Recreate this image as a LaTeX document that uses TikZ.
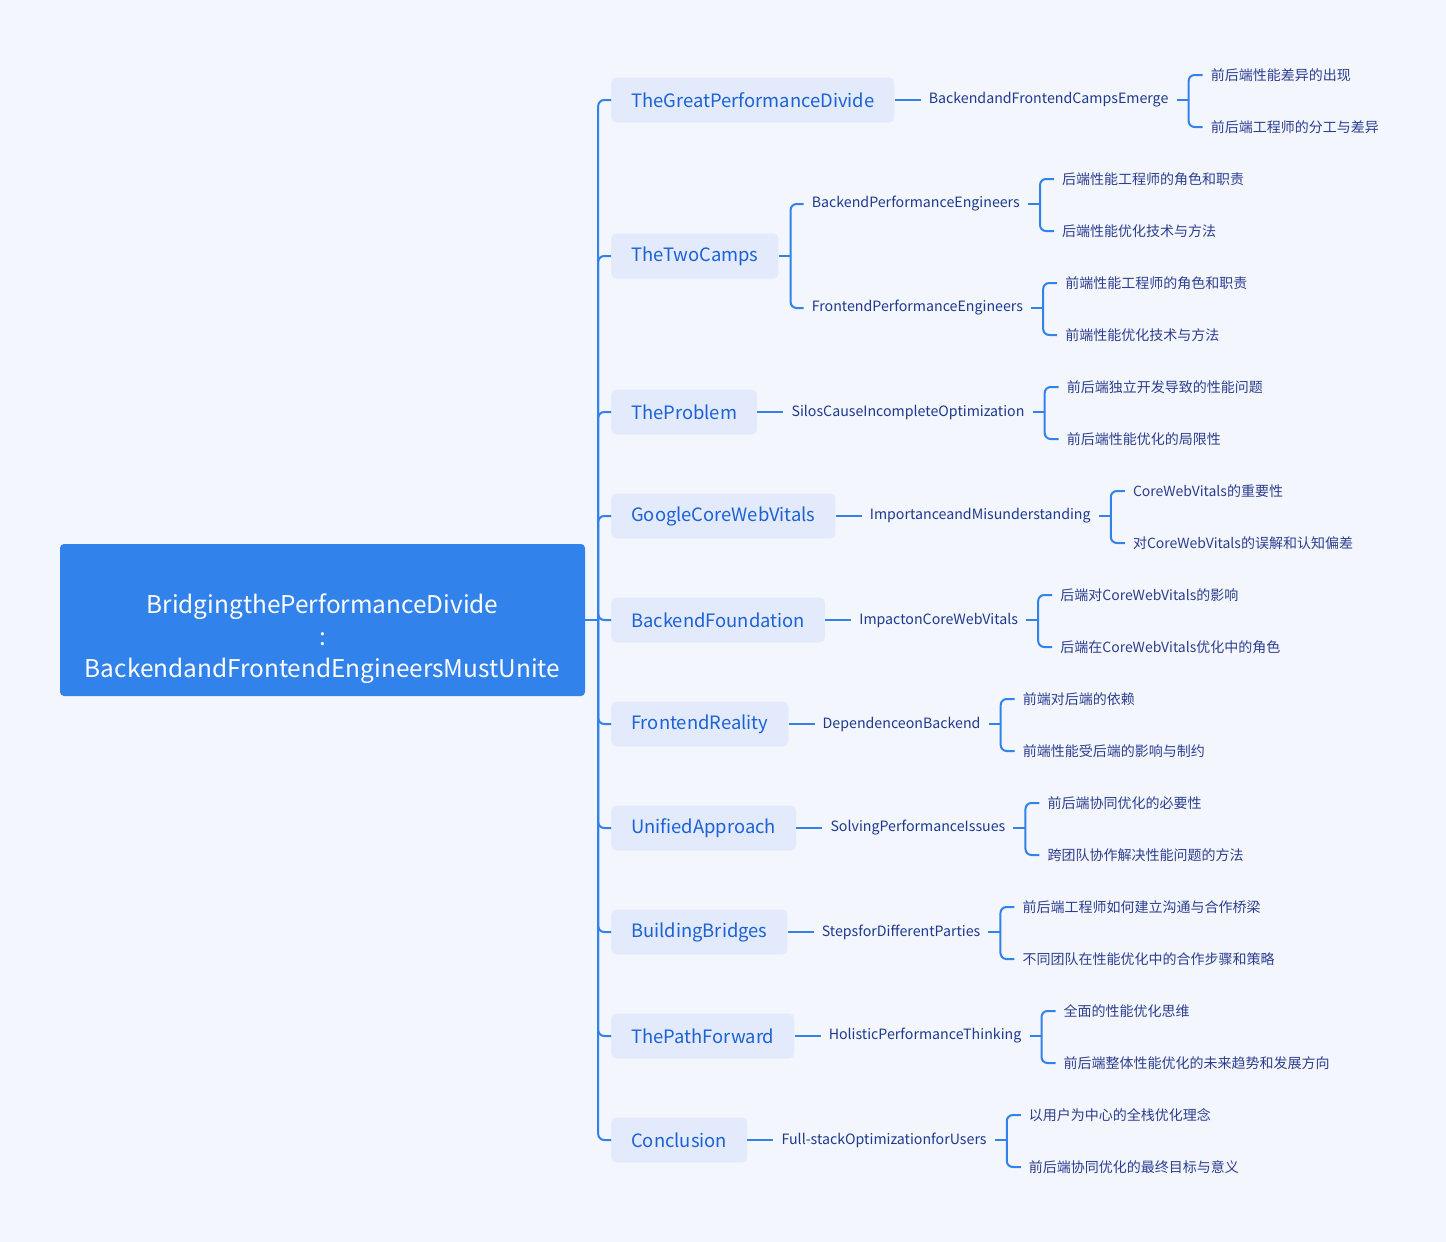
\documentclass[tikz,border=0pt]{standalone}
\usepackage{fontspec}
\setmainfont{Noto Sans CJK SC}
\usetikzlibrary{positioning}
\definecolor{pagebg}{HTML}{F4F6FD}
\definecolor{rootblue}{HTML}{3182EB}
\definecolor{topicbg}{HTML}{E2EAFB}
\definecolor{topictext}{HTML}{1C62D4}
\definecolor{subtext}{HTML}{1D3A8E}
\definecolor{leaftext}{HTML}{2C3F8F}
\begin{document}
\begin{tikzpicture}[x=1pt, y=1pt]
    \tikzstyle{every node}=[align = left]
    \tikzstyle{root} = [fill=rootblue, text=white, rounded corners=4pt, minimum width=525pt, minimum height=152pt, align=center, font=\fontsize{24.4}{32}\selectfont]
    \tikzstyle{topic} = [fill=topicbg, text=topictext, rounded corners=5pt, minimum height=45pt, inner xsep=20pt, anchor=west, font=\fontsize{18.4}{22}\selectfont]
    \tikzstyle{sub} = [text=subtext, inner xsep=8pt, inner ysep=0pt, font=\fontsize{14.2}{17}\selectfont]
    \tikzstyle{leaf} = [text=leaftext, inner xsep=8pt, inner ysep=0pt, anchor=west, font=\fontsize{14}{17}\selectfont]
    \tikzstyle{link} = [draw=rootblue, line width=2pt, rounded corners=6pt]
    \fill[pagebg] (0,0) rectangle (1446,-1242);
    \useasboundingbox (0,0) rectangle (1446,-1242);

    \node[root] (root) at (322.5,-620) {\mbox{}\\[26pt]BridgingthePerformanceDivide\\:\\BackendandFrontendEngineersMustUnite};

    % main topics
    \node[topic] (t1) at (611,-100) {TheGreatPerformanceDivide};
    \node[topic] (t2) at (611,-256) {TheTwoCamps};
    \node[topic] (t3) at (611,-412) {TheProblem};
    \node[topic] (t4) at (611,-516) {GoogleCoreWebVitals};
    \node[topic] (t5) at (611,-620) {BackendFoundation};
    \node[topic] (t6) at (611,-724) {FrontendReality};
    \node[topic] (t7) at (611,-828) {UnifiedApproach};
    \node[topic] (t8) at (611,-932) {BuildingBridges};
    \node[topic] (t9) at (611,-1036) {ThePathForward};
    \node[topic] (t10) at (611,-1140) {Conclusion};

    % sub topics
    \node[sub, right=26pt of t1] (b1) {BackendandFrontendCampsEmerge};
    \node[sub, anchor=west] (b2a) at ([shift={(25,52)}]t2.east) {BackendPerformanceEngineers};
    \node[sub, anchor=west] (b2b) at ([shift={(25,-52)}]t2.east) {FrontendPerformanceEngineers};
    \node[sub, right=26pt of t3] (b3) {SilosCauseIncompleteOptimization};
    \node[sub, right=26pt of t4] (b4) {ImportanceandMisunderstanding};
    \node[sub, right=26pt of t5] (b5) {ImpactonCoreWebVitals};
    \node[sub, right=26pt of t6] (b6) {DependenceonBackend};
    \node[sub, right=26pt of t7] (b7) {SolvingPerformanceIssues};
    \node[sub, right=26pt of t8] (b8) {StepsforDifferentParties};
    \node[sub, right=26pt of t9] (b9) {HolisticPerformanceThinking};
    \node[sub, right=26pt of t10] (b10) {Full-stackOptimizationforUsers};

    % leaves
    \node[leaf] (b1-1) at ([shift={(26,25)}]b1.east) {前后端性能差异的出现};
    \node[leaf] (b1-2) at ([shift={(26,-27)}]b1.east) {前后端工程师的分工与差异};
    \node[leaf] (b2a-1) at ([shift={(26,25)}]b2a.east) {后端性能工程师的角色和职责};
    \node[leaf] (b2a-2) at ([shift={(26,-27)}]b2a.east) {后端性能优化技术与方法};
    \node[leaf] (b2b-1) at ([shift={(26,25)}]b2b.east) {前端性能工程师的角色和职责};
    \node[leaf] (b2b-2) at ([shift={(26,-27)}]b2b.east) {前端性能优化技术与方法};
    \node[leaf] (b3-1) at ([shift={(26,25)}]b3.east) {前后端独立开发导致的性能问题};
    \node[leaf] (b3-2) at ([shift={(26,-27)}]b3.east) {前后端性能优化的局限性};
    \node[leaf] (b4-1) at ([shift={(26,25)}]b4.east) {CoreWebVitals的重要性};
    \node[leaf] (b4-2) at ([shift={(26,-27)}]b4.east) {对CoreWebVitals的误解和认知偏差};
    \node[leaf] (b5-1) at ([shift={(26,25)}]b5.east) {后端对CoreWebVitals的影响};
    \node[leaf] (b5-2) at ([shift={(26,-27)}]b5.east) {后端在CoreWebVitals优化中的角色};
    \node[leaf] (b6-1) at ([shift={(26,25)}]b6.east) {前端对后端的依赖};
    \node[leaf] (b6-2) at ([shift={(26,-27)}]b6.east) {前端性能受后端的影响与制约};
    \node[leaf] (b7-1) at ([shift={(26,25)}]b7.east) {前后端协同优化的必要性};
    \node[leaf] (b7-2) at ([shift={(26,-27)}]b7.east) {跨团队协作解决性能问题的方法};
    \node[leaf] (b8-1) at ([shift={(26,25)}]b8.east) {前后端工程师如何建立沟通与合作桥梁};
    \node[leaf] (b8-2) at ([shift={(26,-27)}]b8.east) {不同团队在性能优化中的合作步骤和策略};
    \node[leaf] (b9-1) at ([shift={(26,25)}]b9.east) {全面的性能优化思维};
    \node[leaf] (b9-2) at ([shift={(26,-27)}]b9.east) {前后端整体性能优化的未来趋势和发展方向};
    \node[leaf] (b10-1) at ([shift={(26,25)}]b10.east) {以用户为中心的全栈优化理念};
    \node[leaf] (b10-2) at ([shift={(26,-27)}]b10.east) {前后端协同优化的最终目标与意义};

    % connectors
    \coordinate (trunk) at ([xshift=13pt]root.east);
    \draw[link] (root.east) -- (trunk);
    \foreach \n in {t1,t2,t3,t4,t5,t6,t7,t8,t9,t10}
        \draw[link] (trunk) |- (\n.west);
    \foreach \n in {1,3,4,5,6,7,8,9,10}
        \draw[link] (t\n.east) -- (b\n.west);
    \coordinate (camps) at ([xshift=12pt]t2.east);
    \draw[link] (t2.east) -- (camps);
    \draw[link] (camps) |- (b2a.west);
    \draw[link] (camps) |- (b2b.west);
    \foreach \n in {b1,b2a,b2b,b3,b4,b5,b6,b7,b8,b9,b10} {
        \coordinate (fork) at ([xshift=12pt]\n.east);
        \draw[link] (\n.east) -- (fork);
        \draw[link] (fork) |- (\n-1.west);
        \draw[link] (fork) |- (\n-2.west);
    }
\end{tikzpicture}
\end{document}
